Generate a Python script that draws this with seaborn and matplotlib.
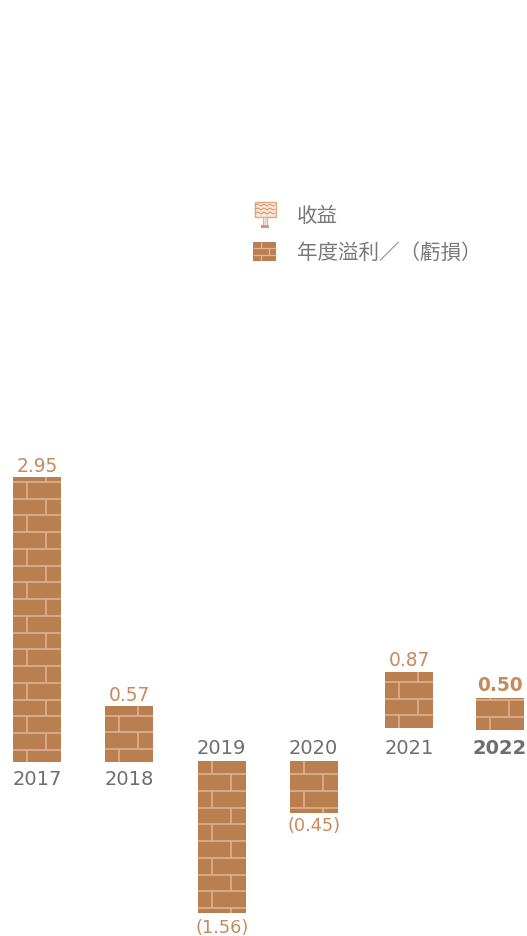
import matplotlib
matplotlib.use('Agg')
import matplotlib.pyplot as plt
from matplotlib.patches import Rectangle
from matplotlib.transforms import Affine2D
import pandas as pd
import seaborn as sns

years = ['2017', '2018', '2019', '2020', '2021', '2022']
value_labels = ['2.95', '0.57', '(1.56)', '(0.45)', '0.87', '0.50']
# the source drew its bars loosely: extents as read off the picture, not the printed values
drawn_low = [0, 0, -1.56, -0.53, 0.35, 0.33]
drawn_high = [2.94, 0.58, 0.01, 0.01, 0.93, 0.66]
legend_labels = ['收益', '年度溢利／（虧損）']

BRICK = '#BA7F51'
MORTAR = '#E2B596'
VALUE_COL = '#C58A5E'
YEAR_COL = '#6D6E71'
W, H = 527, 937
PX_PER_UNIT = 97
BASE_Y = 763

sns.set_style('white')
plt.rcParams['font.family'] = ['DejaVu Sans']

df = pd.DataFrame({'year': years, 'low': drawn_low, 'high': drawn_high})
df['height'] = df['high'] - df['low']

fig = plt.figure(figsize=(W / 100, H / 100), dpi=100)
ax = fig.add_axes([0, 0, 1, 1])
sns.barplot(data=df, x='year', y='height', bottom=df['low'].values, color=BRICK,
            saturation=1, width=48 / 92.6, linewidth=0, ax=ax)
ax.set_xlim(-37 / 92.6, (W - 37) / 92.6)
ax.set_ylim((BASE_Y - H) / PX_PER_UNIT, BASE_Y / PX_PER_UNIT)
ax.axis('off')

# pixel coords, y going down, for the brick texture and the legend icons
px = Affine2D().scale(1 / W, -1 / H).translate(0, 1) + fig.transFigure


def bricks(left, top, right, bottom, first_line, first_joint, j1, j2, clip=None, lw=1.1, step=16.75):
    y = top + first_line
    edges = [top]
    while y < bottom:
        edges.append(y)
        y += step
    edges.append(bottom)
    use_first = first_joint == j1
    for i in range(len(edges) - 1):
        x = left + (j1 if use_first else j2)
        use_first = not use_first
        objs = ax.plot([x, x], [edges[i], edges[i + 1]], color=MORTAR, lw=lw,
                       transform=px, solid_capstyle='butt')
        if i > 0:
            objs += ax.plot([left, right], [edges[i], edges[i]], color=MORTAR, lw=lw,
                            transform=px, solid_capstyle='butt')
        if clip is not None:
            for o in objs:
                o.set_clip_path(clip)


first_lines = [5, 10, 13, 13, 10, 2]
first_joints = [33, 33, 14, 14, 33, 14]
bar_lefts = [13, 105, 198, 290, 385, 476]
for i, patch in enumerate(ax.patches):
    # bars are not quite evenly spaced in the reference
    patch.set_x(i + (bar_lefts[i] + 24 - 37 - i * 92.6) / 92.6 - 24 / 92.6)
    top = BASE_Y - drawn_high[i] * PX_PER_UNIT
    bottom = BASE_Y - drawn_low[i] * PX_PER_UNIT
    bricks(bar_lefts[i], top, bar_lefts[i] + 48, bottom, first_lines[i], first_joints[i], 33, 14, clip=patch)

value_y = [467, 696, 928, 826, 661, 686]
for i, lab in enumerate(value_labels):
    size = 12.8 if lab.startswith('(') else 13.4
    ax.text(bar_lefts[i] + 24, value_y[i], lab, transform=px, color=VALUE_COL, fontsize=size, ha='center',
            va='center', fontweight='bold' if years[i] == '2022' else 'normal')

year_y = [780, 780, 748.5, 748.5, 748.5, 748.5]
year_x = [37, 129.5, 221, 313, 409, 500]
for i, yr in enumerate(years):
    ax.text(year_x[i], year_y[i], yr, transform=px, color=YEAR_COL, fontsize=14, ha='center', va='center',
            fontweight='bold' if yr == '2022' else 'normal')

# legend
ax.add_patch(Rectangle((254.5, 202.5), 21, 15, transform=px, fc='#F8E8DB', ec='#E0A880', lw=1))
ax.add_patch(Rectangle((263, 218), 4, 8, transform=px, fc='#F3DCC9', ec='#E0A880', lw=0.6))
ax.add_patch(Rectangle((261, 226), 8, 3, transform=px, fc='#D9986C', lw=0))
for wy in [206, 210, 214]:
    xs = [255, 258, 261, 264, 267, 270, 273, 275]
    ys = [wy + d for d in [0, -1, 1, -1, 1, -1, 1, 0]]
    ax.plot(xs, ys, color='#D9986C', lw=0.8, transform=px)
ax.add_patch(Rectangle((253, 243), 23, 19, transform=px, fc=BRICK, lw=0))
bricks(253, 243, 276, 262, 6, 8, 8, 16, lw=0.9, step=7)

for lab, y in zip(legend_labels, [216.5, 253]):
    ax.text(296.5, y, lab, transform=px, color='#77787B', fontsize=14.8, ha='left', va='center',
            family=['Noto Sans CJK TC', 'DejaVu Sans'], fontweight='light')

fig.savefig('out.png', dpi=100)
